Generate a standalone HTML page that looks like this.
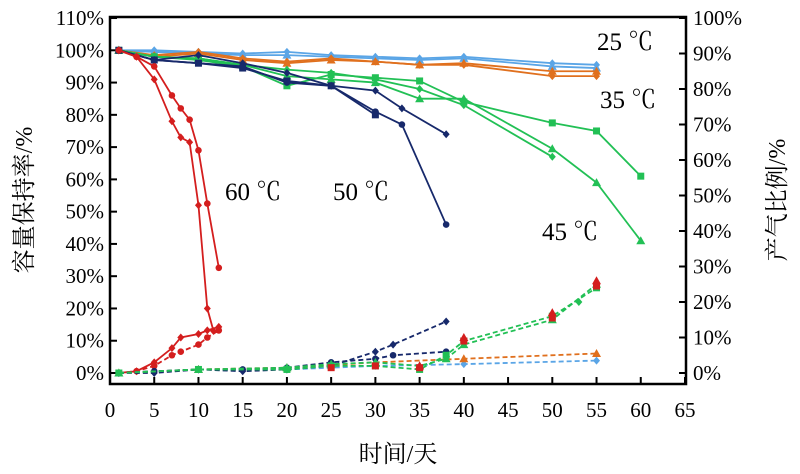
<!DOCTYPE html><html><head><meta charset="utf-8"><style>body{margin:0;background:#fff}svg{display:block}text{font-family:"Liberation Serif","Noto Serif CJK SC",serif}</style></head><body>
<svg width="800" height="474" viewBox="0 0 800 474" xmlns="http://www.w3.org/2000/svg">
<rect x="110" y="17" width="576" height="367" fill="none" stroke="#000" stroke-width="2.5"/>
<g id="t" stroke="#000" stroke-width="2"></g>
<g id="lab" font-size="21" fill="#000"></g>
<g id="d"></g>
<g font-size="25" fill="#000">
<text x="597" y="50">25 ℃</text><text x="600" y="108">35 ℃</text><text x="542" y="240">45 ℃</text><text x="225" y="200">60 ℃</text><text x="333" y="200">50 ℃</text>
</g>
<text x="398" y="462" font-size="24" text-anchor="middle" font-family="'Noto Serif CJK SC',serif">时间/天</text>
<text transform="translate(32,200) rotate(-90)" font-size="24" text-anchor="middle" font-family="'Noto Serif CJK SC',serif">容量保持率/%</text>
<text transform="translate(785,200) rotate(-90)" font-size="24" text-anchor="middle" font-family="'Noto Serif CJK SC',serif">产气比例/%</text>
<script>
var ns="http://www.w3.org/2000/svg";
function X(d){return 110+d*8.846}function YL(p){return 373-p*3.227}function YR(p){return 373-p*3.55}
function el(n,a,p){var e=document.createElementNS(ns,n);for(var k in a)e.setAttribute(k,a[k]);p.appendChild(e);return e}
var t=document.getElementById('t'),lab=document.getElementById('lab'),d=document.getElementById('d');
for(var i=0;i<=13;i++){var x=X(i*5);el('line',{x1:x,x2:x,y1:384,y2:377},t);var e=el('text',{x:x,y:417,'text-anchor':'middle'},lab);e.textContent=i*5;}
for(var i=0;i<=11;i++){var y=YL(i*10);el('line',{x1:110,x2:117,y1:y,y2:y},t);var e=el('text',{x:104,y:y+7,'text-anchor':'end'},lab);e.textContent=i*10+'%';}
for(var i=0;i<=10;i++){var y=YR(i*10);el('line',{x1:686,x2:679,y1:y,y2:y},t);var e=el('text',{x:693,y:y+7},lab);e.textContent=i*10+'%';}
function S(c,pts,right,dash,mk,noline){var Y=right?YR:YL;var s=pts.map(function(p){return X(p[0])+','+Y(p[1])}).join(' ');
if(!noline)el('polyline',{points:s,fill:'none',stroke:c,'stroke-width':dash?1.8:1.8,'stroke-dasharray':dash?'5,3':''},d);
pts.forEach(function(p){var x=X(p[0]),y=Y(p[1]);if(mk=='s')el('rect',{x:x-3.5,y:y-3.5,width:7,height:7,fill:c},d);else if(mk=='t')el('polygon',{points:(x)+','+(y-4.5)+' '+(x-4.5)+','+(y+3.5)+' '+(x+4.5)+','+(y+3.5),fill:c},d);else if(mk=='d')el('polygon',{points:x+','+(y-4)+' '+(x+3.5)+','+y+' '+x+','+(y+4)+' '+(x-3.5)+','+y,fill:c},d);else el('circle',{cx:x,cy:y,r:3.3,fill:c},d);});}
var B='#5aa5e6',O='#e0701e',G='#22c055',N='#17296b',R='#d41e1e';
var D=[1,5,10,15,20,25,30,35,40,50,55];
function Z(v){return v.map(function(a,i){return[D[i],a]})}
S(B,Z([100,100,99.5,99,99.5,98.5,98,97.5,98,96,95.5]),0,0,'d');
S(B,Z([100,99.5,99,98.5,98.5,98,97.5,97,97.5,95,94.5]),0,0,'t');
S(O,Z([100,98,99,97,96,97,96.5,95.5,96,93.5,93.5]),0,0,'t');
S(O,Z([100,98.5,99.5,97.5,96.5,97.5,96.5,95.5,95.5,92,92]),0,0,'d');
S(G,[[1,100],[5,98],[10,97],[15,95],[20,89],[25,92.5],[30,91.5],[35,90.5],[40,84],[50,77.5],[55,75],[60,61]],0,0,'s');
S(G,[[1,100],[5,98],[10,97.5],[15,95.5],[20,92],[25,91],[30,90],[35,85],[40,85],[50,69.5],[55,59],[60,41]],0,0,'t');
S(G,[[1,100],[5,98],[10,97.5],[15,95.5],[20,94],[25,93],[30,91],[35,88],[40,83],[50,67]],0,0,'d');
S(N,[[1,100],[5,97],[10,98.5],[15,96],[20,93],[25,89],[30,87.5],[33,82],[38,74]],0,0,'d');
S(N,[[1,100],[5,97],[10,96],[15,95],[20,90],[25,89],[30,81],[33,77],[38,46]],0,0,'c');
S(N,[[1,100],[5,97],[10,96],[15,94.5],[20,90.5],[25,89],[30,80]],0,0,'s');
S(R,[[1,100],[3,98],[5,95],[7,86],[8,82],[9,78.5],[10,69],[11,52.5],[12.3,32.6]],0,0,'c');
S(R,[[1,100],[3,98],[5,91],[7,78],[8,73],[9,71.5],[10,52],[11,20],[11.7,13]],0,0,'d');
S(R,[[1,0],[3,0.5],[5,3],[7,7],[8,10],[10,11],[11,12],[12.3,13]],1,0,'d');
S(R,[[1,0],[3,0.5],[5,2],[7,5],[8,6],[10,8],[11,10],[12.3,12]],1,1,'c');
S(B,[[1,0],[10,1],[20,1],[30,2],[40,2.5],[55,3.5]],1,1,'d');
S(O,[[1,0],[10,1],[20,1.5],[30,3],[40,4],[55,5.5]],1,1,'t');
S(N,[[1,0],[5,0],[10,1],[15,0.5],[20,1],[25,2],[30,6],[32,8],[38,14.5]],1,1,'d');
S(N,[[1,0],[5,0.5],[10,1],[15,1],[20,1.5],[25,3],[30,4],[32,5],[38,6]],1,1,'c');
S(G,[[1,0],[10,1],[20,1],[25,2],[30,2],[35,1],[38,5],[40,9],[50,16],[55,24]],1,1,'s');
S(G,[[1,0],[10,1],[20,1.5],[25,2.5],[30,3],[35,2],[38,4],[40,8],[50,15],[55,25]],1,1,'t');
S(G,[[50,16.5],[53,20],[55,24.5]],1,0,'d',1);
S(R,[[25,1.5],[30,2],[35,1.5],[40,9],[50,15.5],[55,24.5]],1,0,'s',1);
S(R,[[35,2],[40,10],[50,17],[55,26]],1,0,'t',1);
</script>
</svg></body></html>
